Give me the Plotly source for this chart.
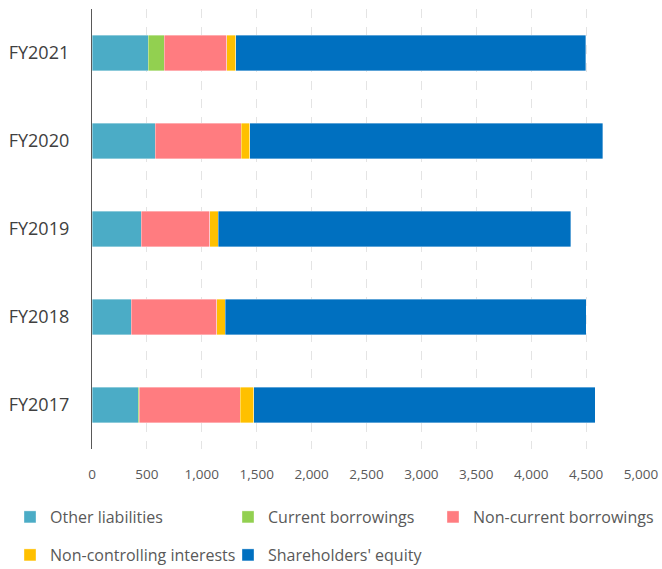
import plotly.graph_objects as go

years = ["FY2017", "FY2018", "FY2019", "FY2020", "FY2021"]
other_liabilities = [419, 358, 449, 576, 510]
current_borrowings = [11, 0, 0, 0, 149]
non_current_borrowings = [920, 779, 622, 783, 570]
non_controlling = [124, 76, 79, 79, 79]
shareholders_equity = [3111, 3290, 3210, 3213, 3187]

series_names = ["Other liabilities", "Current borrowings", "Non-current borrowings",
                "Non-controlling interests", "Shareholders' equity"]
series_values = [other_liabilities, current_borrowings, non_current_borrowings,
                 non_controlling, shareholders_equity]
series_colors = ["#4BACC6", "#92D050", "#FF7C80", "#FFC000", "#0070C0"]

tickvals = [0, 500, 1000, 1500, 2000, 2500, 3000, 3500, 4000, 4500, 5000]

# legend entry placement (pixel left of legend box, pixel row centre)
legend_ids = ["legend", "legend2", "legend3", "legend4", "legend5"]
legend_px = [(10, 517), (228, 517), (433, 517), (10, 555), (228, 555)]

fig = go.Figure()
for name, vals, color, lg in zip(series_names, series_values, series_colors, legend_ids):
    fig.add_trace(go.Bar(
        name=name, y=years, x=vals, orientation="h", legend=lg,
        marker=dict(color=color, line=dict(color="rgba(255,255,255,0.6)", width=0.6)),
    ))

PLOT_L, PLOT_W, PLOT_B, PLOT_H = 92, 549, 449, 440

legend_common = dict(
    orientation="h",
    xref="paper", yref="paper",
    xanchor="left", yanchor="middle",
    font=dict(size=16, color="#595959"),
    itemwidth=30, bgcolor="rgba(0,0,0,0)",
)
legends = {}
for lg, (px, py) in zip(legend_ids, legend_px):
    legends[lg] = dict(legend_common, x=(px - PLOT_L) / PLOT_W, y=-(py - PLOT_B) / PLOT_H)

fig.update_layout(
    barmode="stack",
    bargap=0.6,
    width=662, height=569,
    margin=dict(l=92, r=21, t=9, b=120, autoexpand=False),
    plot_bgcolor="white", paper_bgcolor="white",
    font=dict(family="Open Sans", color="#595959"),
    showlegend=True,
    xaxis=dict(
        range=[0, 5000], tickvals=tickvals,
        tickformat=",d", showgrid=True, gridcolor="#E4E4E4", griddash="dash",
        gridwidth=1, zeroline=False, showline=False,
        tickfont=dict(size=13.5, color="#595959"),
        ticklabelstandoff=15, automargin=False,
    ),
    yaxis=dict(
        categoryorder="array", categoryarray=years,
        showline=True, linecolor="#595959", linewidth=1.3,
        showgrid=False, zeroline=False,
        tickfont=dict(size=18, color="#404040"),
        ticklabelstandoff=18, automargin=False,
    ),
    **legends,
)

fig.write_html("out.html", config={"displayModeBar": False},
               post_script="document.body.style.margin='0';")
